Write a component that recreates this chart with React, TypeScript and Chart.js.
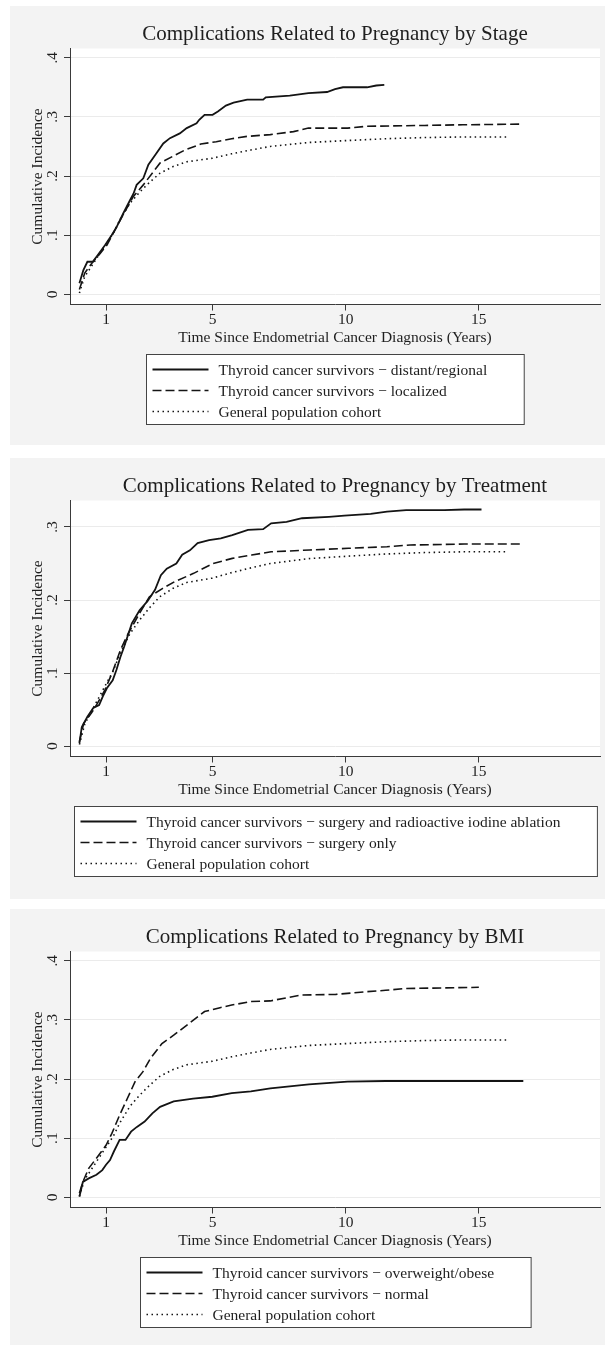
import React, { useEffect, useRef } from 'react';
import { Chart, registerables } from 'chart.js';

Chart.register(...registerables);

// ---------------- DATA ----------------
const X_TICKS = [1, 5, 10, 15];
const X_TICK_LABELS = ['1', '5', '10', '15'];
const Y_TICKS_A = [0, 0.1, 0.2, 0.3, 0.4];
const Y_TICK_LABELS_A = ['0', '.1', '.2', '.3', '.4'];
const Y_TICKS_B = [0, 0.1, 0.2, 0.3];
const Y_TICK_LABELS_B = ['0', '.1', '.2', '.3'];

const TITLES = [
  'Complications Related to Pregnancy by Stage',
  'Complications Related to Pregnancy by Treatment',
  'Complications Related to Pregnancy by BMI',
];
const X_TITLE = 'Time Since Endometrial Cancer Diagnosis (Years)';
const Y_TITLE = 'Cumulative Incidence';

const LABELS_STAGE = [
  'Thyroid cancer survivors \u2212 distant/regional',
  'Thyroid cancer survivors \u2212 localized',
  'General population cohort',
];
const LABELS_TREAT = [
  'Thyroid cancer survivors \u2212 surgery and radioactive iodine ablation',
  'Thyroid cancer survivors \u2212 surgery only',
  'General population cohort',
];
const LABELS_BMI = [
  'Thyroid cancer survivors \u2212 overweight/obese',
  'Thyroid cancer survivors \u2212 normal',
  'General population cohort',
];

// General population cohort (same in all panels)
const GEN_T = [0, 0.2, 0.52, 0.9, 1.27, 1.52, 1.9, 2.27, 2.65, 3.02, 3.52, 4.03, 4.99, 5.72, 6.44, 7.17, 8.62, 10.07, 11.5, 12.97, 14.4, 16.1];
const GEN_V = [0.002, 0.03, 0.052, 0.078, 0.103, 0.126, 0.154, 0.173, 0.19, 0.2045, 0.216, 0.224, 0.23, 0.2375, 0.244, 0.25, 0.2567, 0.26, 0.263, 0.265, 0.266, 0.266];

// Panel 1: stage
const DISTANT_T = [0, 0.15, 0.3, 0.5, 0.65, 0.96, 1.21, 1.4, 1.65, 1.9, 2.03, 2.15, 2.4, 2.59, 2.84, 3.15, 3.4, 3.77, 4.03, 4.4, 4.5, 4.7, 5.0, 5.2, 5.5, 5.79, 6.3, 6.9, 7.0, 7.9, 8.6, 9.3, 9.6, 9.9, 10.8, 11.15, 11.45];
const DISTANT_V = [0.0186, 0.041, 0.055, 0.055, 0.064, 0.083, 0.1, 0.114, 0.137, 0.159, 0.17, 0.185, 0.196, 0.219, 0.235, 0.255, 0.264, 0.272, 0.281, 0.289, 0.295, 0.3035, 0.3035, 0.309, 0.319, 0.324, 0.329, 0.329, 0.333, 0.336, 0.34, 0.342, 0.347, 0.35, 0.35, 0.353, 0.354];
const LOCAL_T = [0, 0.2, 0.46, 0.78, 1.03, 1.34, 1.65, 2.02, 2.4, 3.03, 3.97, 4.56, 5.14, 5.72, 6.3, 7.17, 8.04, 8.6, 10.07, 10.8, 12.97, 14.4, 16.6];
const LOCAL_V = [0.008, 0.036, 0.052, 0.069, 0.083, 0.109, 0.135, 0.165, 0.185, 0.222, 0.244, 0.254, 0.258, 0.263, 0.267, 0.27, 0.275, 0.281, 0.281, 0.284, 0.2855, 0.2866, 0.2877];

// Panel 2: treatment
const RAI_T = [0, 0.09, 0.3, 0.52, 0.74, 0.88, 1.03, 1.25, 1.39, 1.54, 1.68, 1.97, 2.26, 2.55, 2.84, 3.06, 3.28, 3.64, 3.86, 4.15, 4.44, 4.87, 5.31, 5.74, 6.33, 6.9, 7.2, 7.78, 8.36, 9.37, 9.95, 10.94, 11.55, 12.27, 13.7, 14.45, 15.1];
const RAI_V = [0.004, 0.026, 0.04, 0.052, 0.056, 0.068, 0.079, 0.09, 0.104, 0.122, 0.136, 0.168, 0.186, 0.198, 0.214, 0.234, 0.243, 0.25, 0.262, 0.268, 0.278, 0.282, 0.2845, 0.289, 0.296, 0.297, 0.305, 0.307, 0.312, 0.314, 0.3155, 0.318, 0.321, 0.323, 0.323, 0.324, 0.324];
const SURG_T = [0, 0.16, 0.45, 0.67, 0.96, 1.25, 1.54, 1.83, 1.97, 2.26, 2.63, 3.13, 3.57, 4.29, 5.02, 5.74, 6.47, 7.2, 8.65, 10.1, 11.55, 12.42, 14.45, 16.6];
const SURG_V = [0.006, 0.031, 0.045, 0.058, 0.077, 0.102, 0.1315, 0.154, 0.163, 0.182, 0.2045, 0.216, 0.225, 0.2365, 0.25, 0.257, 0.2616, 0.266, 0.2685, 0.2708, 0.273, 0.2753, 0.2767, 0.2767];

// Panel 3: BMI
const OBESE_T = [0, 0.13, 0.35, 0.64, 0.86, 1.0, 1.15, 1.29, 1.51, 1.73, 1.94, 2.16, 2.45, 2.74, 3.03, 3.54, 4.27, 4.99, 5.72, 6.44, 7.17, 8.62, 10.07, 11.5, 14.4, 16.67];
const OBESE_V = [0.001, 0.026, 0.032, 0.038, 0.046, 0.055, 0.063, 0.077, 0.097, 0.097, 0.111, 0.119, 0.128, 0.142, 0.153, 0.162, 0.167, 0.17, 0.176, 0.179, 0.184, 0.191, 0.1955, 0.1966, 0.1966, 0.1966];
const NORMAL_T = [0, 0.13, 0.35, 0.64, 1.0, 1.22, 1.51, 1.8, 2.09, 2.38, 2.67, 3.1, 3.54, 4.12, 4.7, 5.28, 5.72, 6.44, 7.17, 8.33, 9.63, 10.8, 11.5, 12.24, 13.7, 15.0];
const NORMAL_V = [0.007, 0.026, 0.049, 0.066, 0.088, 0.108, 0.139, 0.167, 0.1955, 0.212, 0.235, 0.26, 0.274, 0.294, 0.314, 0.3206, 0.325, 0.331, 0.332, 0.342, 0.343, 0.3476, 0.35, 0.353, 0.354, 0.355];

// ---------------- STYLE / LAYOUT ----------------
const SERIF = '"Liberation Serif", "Times New Roman", serif';
const PAGE_BG = '#ffffff';
const PANEL_BG = '#f3f3f3';
const PLOT_BG = '#ffffff';
const GRID = '#ebebeb';
const AXIS = '#3a3a3a';
const TEXT = '#1e1e1e';
const LINE = '#141414';
const DASH_SOLID: number[] = [];
const DASH_DASHED = [9, 4];
const DASH_DOTTED = [1.5, 3.5];
const STYLES = [DASH_SOLID, DASH_DASHED, DASH_DOTTED];
const WIDTHS = [1.8, 1.6, 1.6];

const W = 595;
const CA_LEFT = 60;
const CA_RIGHT = 590;
const CA_TOP = 42.5;
const CA_BOTTOM = 298.5;
const X_SCALE_H = 10;
const X_MIN = -0.353;
const X_MAX = 19.55;

type PanelDef = {
  top: number;
  height: number;
  title: string;
  labels: string[];
  series: { t: number[]; v: number[] }[];
  yTicks: number[];
  yTickLabels: string[];
  yMin: number;
  yMax: number;
};

const PANELS: PanelDef[] = [
  {
    top: 6, height: 439, title: TITLES[0], labels: LABELS_STAGE,
    series: [{ t: DISTANT_T, v: DISTANT_V }, { t: LOCAL_T, v: LOCAL_V }, { t: GEN_T, v: GEN_V }],
    yTicks: Y_TICKS_A, yTickLabels: Y_TICK_LABELS_A, yMin: -0.01724, yMax: 0.41555,
  },
  {
    top: 458, height: 441, title: TITLES[1], labels: LABELS_TREAT,
    series: [{ t: RAI_T, v: RAI_V }, { t: SURG_T, v: SURG_V }, { t: GEN_T, v: GEN_V }],
    yTicks: Y_TICKS_B, yTickLabels: Y_TICK_LABELS_B, yMin: -0.01438, yMax: 0.3363,
  },
  {
    top: 909, height: 436, title: TITLES[2], labels: LABELS_BMI,
    series: [{ t: OBESE_T, v: OBESE_V }, { t: NORMAL_T, v: NORMAL_V }, { t: GEN_T, v: GEN_V }],
    yTicks: Y_TICKS_A, yTickLabels: Y_TICK_LABELS_A, yMin: -0.01724, yMax: 0.41555,
  },
];

function makeDecor(p: PanelDef) {
  return {
    id: 'decor',
    beforeDraw(chart: any) {
      const { ctx, chartArea: ca } = chart;
      ctx.save();
      ctx.fillStyle = PANEL_BG;
      ctx.fillRect(0, 0, chart.width, chart.height);
      ctx.fillStyle = PLOT_BG;
      ctx.fillRect(ca.left, ca.top, ca.right - ca.left, ca.bottom - ca.top);
      ctx.restore();
    },
    afterDraw(chart: any) {
      const { ctx, chartArea: ca } = chart;
      const xs = chart.scales.x;
      const ys = chart.scales.y;
      const cx = (ca.left + ca.right) / 2;
      ctx.save();
      ctx.fillStyle = TEXT;

      // title
      ctx.font = `21px ${SERIF}`;
      ctx.textAlign = 'center';
      ctx.textBaseline = 'alphabetic';
      ctx.fillText(p.title, cx, 34);

      // x tick labels
      ctx.font = `15.5px ${SERIF}`;
      X_TICKS.forEach((v, i) => {
        ctx.fillText(X_TICK_LABELS[i], xs.getPixelForValue(v), ca.bottom + 19);
      });
      // x title
      ctx.fillText(X_TITLE, cx, ca.bottom + 37.5);

      // y tick labels (rotated)
      p.yTicks.forEach((v, i) => {
        ctx.save();
        ctx.translate(46.5, ys.getPixelForValue(v));
        ctx.rotate(-Math.PI / 2);
        ctx.textAlign = 'center';
        ctx.textBaseline = 'alphabetic';
        ctx.fillText(p.yTickLabels[i], 0, 0);
        ctx.restore();
      });
      // y title
      ctx.save();
      ctx.translate(31.5, (ca.top + ca.bottom) / 2);
      ctx.rotate(-Math.PI / 2);
      ctx.textAlign = 'center';
      ctx.textBaseline = 'alphabetic';
      ctx.fillText(Y_TITLE, 0, 0);
      ctx.restore();

      // legend
      ctx.font = `15.5px ${SERIF}`;
      const maxW = Math.max(...p.labels.map((l) => ctx.measureText(l).width));
      const padL = 6, sample = 56, gap = 10, padR = 37;
      const bw = padL + sample + gap + maxW + padR;
      const bx = Math.round(cx - bw / 2) + 0.5;
      const by = 348.5;
      const bh = 70;
      ctx.fillStyle = '#ffffff';
      ctx.fillRect(bx, by, bw, bh);
      ctx.strokeStyle = '#444444';
      ctx.lineWidth = 1;
      ctx.setLineDash([]);
      ctx.strokeRect(bx, by, bw, bh);
      const rows = [by + 15, by + 36, by + 57];
      p.labels.forEach((lab, i) => {
        const y = rows[i];
        ctx.save();
        ctx.strokeStyle = LINE;
        ctx.lineWidth = WIDTHS[i];
        ctx.setLineDash(STYLES[i]);
        ctx.beginPath();
        ctx.moveTo(bx + padL, y);
        ctx.lineTo(bx + padL + sample, y);
        ctx.stroke();
        ctx.restore();
        ctx.fillStyle = TEXT;
        ctx.textAlign = 'left';
        ctx.textBaseline = 'middle';
        ctx.fillText(lab, bx + padL + sample + gap, y + 1);
      });
      ctx.restore();
    },
  };
}

function PanelChart({ p }: { p: PanelDef }) {
  const ref = useRef<HTMLCanvasElement>(null);
  useEffect(() => {
    const canvas = ref.current;
    if (!canvas) return;
    const chart = new Chart(canvas, {
      type: 'line',
      data: {
        datasets: p.series.map((s, i) => ({
          label: p.labels[i],
          data: s.t.map((t, j) => ({ x: t, y: s.v[j] })),
          borderColor: LINE,
          borderWidth: WIDTHS[i],
          borderDash: STYLES[i],
          borderCapStyle: 'butt',
          pointRadius: 0,
          fill: false,
          tension: 0,
        })),
      },
      options: {
        responsive: false,
        animation: false,
        devicePixelRatio: 1,
        events: [],
        layout: {
          padding: { left: 0, right: W - CA_RIGHT, top: CA_TOP, bottom: p.height - CA_BOTTOM - X_SCALE_H },
        },
        plugins: {
          legend: { display: false },
          title: { display: false },
          tooltip: { enabled: false },
        },
        scales: {
          x: {
            type: 'linear',
            min: X_MIN,
            max: X_MAX,
            afterBuildTicks: (s: any) => {
              s.ticks = X_TICKS.map((v) => ({ value: v }));
            },
            afterFit: (s: any) => {
              s.height = X_SCALE_H;
            },
            ticks: { display: false },
            grid: { drawOnChartArea: false, drawTicks: true, tickLength: 6, tickColor: AXIS, tickWidth: 1 },
            border: { display: true, color: AXIS, width: 1 },
          },
          y: {
            type: 'linear',
            min: p.yMin,
            max: p.yMax,
            afterBuildTicks: (s: any) => {
              s.ticks = p.yTicks.map((v) => ({ value: v }));
            },
            afterFit: (s: any) => {
              s.width = CA_LEFT;
            },
            ticks: { display: false },
            grid: { color: GRID, lineWidth: 1, drawTicks: true, tickLength: 6, tickColor: AXIS, tickWidth: 1 },
            border: { display: true, color: AXIS, width: 1 },
          },
        },
      } as any,
      plugins: [makeDecor(p)],
    });
    return () => chart.destroy();
  }, [p]);
  return (
    <div style={{ position: 'absolute', left: 10, top: p.top, width: W, height: p.height }}>
      <canvas ref={ref} width={W} height={p.height} style={{ display: 'block', width: W, height: p.height }} />
    </div>
  );
}

export default function App() {
  return (
    <div style={{ position: 'absolute', left: 0, top: 0, width: 605, height: 1345, background: PAGE_BG, overflow: 'hidden' }}>
      {PANELS.map((p, i) => (
        <PanelChart key={i} p={p} />
      ))}
    </div>
  );
}
